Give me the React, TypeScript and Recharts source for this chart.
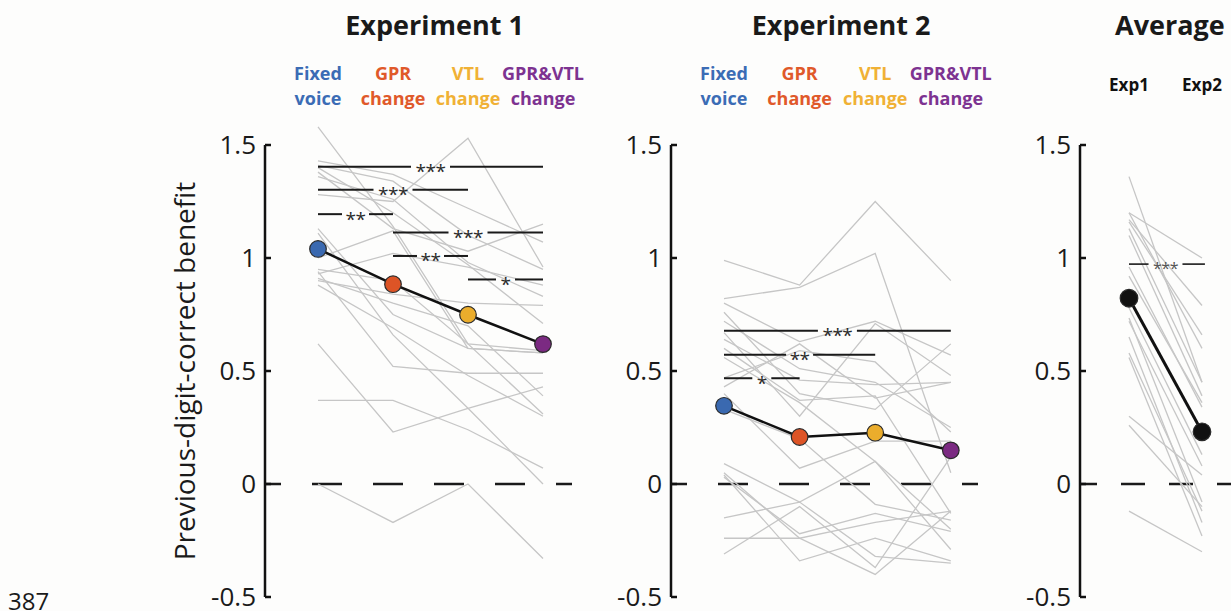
import React from 'react';
import { LineChart, Line, XAxis, YAxis, ReferenceLine, ReferenceDot } from 'recharts';

const FONT = "'Open Sans', 'DejaVu Sans', sans-serif";

// condition labels (two lines each) and their colours
const conditionLabels = [
  ['Fixed', 'voice'],
  ['GPR', 'change'],
  ['VTL', 'change'],
  ['GPR&VTL', 'change'],
];
const conditionColors = ['#3b6cb5', '#e0592a', '#f0b135', '#7d3391'];
const meanDotColors = ['#3a69b0', '#dd5426', '#ebad2c', '#7b2a82'];
const avgLabels = [['Exp1'], ['Exp2']];
const avgDotColors = ['#111111', '#111111'];

const yTicks = [-0.5, 0, 0.5, 1, 1.5];
const Y_MIN = -0.5;
const Y_AXIS_TOP = 1.5;
const Y_DOMAIN_TOP = 1.6; // a little headroom so lines above 1.5 are not clipped

// group means
const exp1Means = [1.04, 0.884, 0.749, 0.619];
const exp2Means = [0.346, 0.208, 0.227, 0.149];
const avgMeans = [0.822, 0.231];

// one row per participant: fixed, GPR, VTL, GPR&VTL
const exp1Subjects = [
  [0.0, -0.17, 0.0, -0.33],
  [0.37, 0.37, 0.24, 0.07],
  [0.62, 0.23, 0.335, 0.43],
  [0.94, 0.52, 0.49, 0.49],
  [1.11, 0.66, 0.335, 0.0],
  [1.28, 1.25, 1.53, 0.96],
  [1.58, 1.14, 0.62, 0.31],
  [1.43, 1.37, 1.22, 1.07],
  [1.38, 1.13, 1.03, 1.15],
  [1.41, 1.34, 1.1, 0.95],
  [1.36, 1.26, 0.98, 0.83],
  [1.4, 1.2, 0.97, 0.71],
  [1.13, 0.75, 0.6, 0.58],
  [0.93, 1.02, 0.96, 0.88],
  [0.95, 0.9, 0.62, 0.59],
  [0.91, 0.8, 0.7, 0.39],
  [0.88, 0.69, 0.48, 0.3],
  [1.0, 1.12, 0.6, 0.58],
  [0.9, 0.84, 0.8, 0.79],
];

const exp2Subjects = [
  [0.99, 0.88, 1.25, 0.9],
  [0.82, 0.87, 1.02, 0.05],
  [0.8, 0.63, 0.72, 0.57],
  [0.47, 0.59, 0.54, 0.23],
  [0.76, 0.4, 0.33, 0.62],
  [0.72, 0.51, 0.45, 0.25],
  [0.67, 0.3, 0.71, 0.48],
  [0.64, 0.46, 0.44, 0.45],
  [0.6, 0.37, 0.39, -0.13],
  [0.56, 0.36, 0.1, -0.2],
  [0.43, 0.62, 0.38, 0.45],
  [0.4, 0.07, 0.19, 0.19],
  [0.33, 0.2, -0.09, -0.16],
  [0.09, -0.08, 0.1, -0.29],
  [0.05, -0.24, -0.17, -0.12],
  [0.04, -0.34, -0.24, -0.34],
  [-0.15, -0.08, -0.32, -0.35],
  [-0.24, -0.24, -0.4, -0.12],
  [-0.31, -0.1, -0.37, 0.12],
  [0.03, -0.22, -0.13, -0.21],
];

// one row per participant: Exp1, Exp2
const avgSubjects = [
  [1.36, 0.45],
  [1.2, 1.0],
  [1.2, 0.6],
  [1.17, 0.79],
  [1.16, 0.66],
  [1.13, 0.45],
  [1.1, 0.39],
  [0.92, 0.36],
  [0.78, 0.13],
  [0.735, -0.08],
  [0.72, 0.08],
  [0.65, -0.17],
  [0.58, -0.12],
  [0.56, -0.23],
  [0.3, 0.04],
  [0.26, -0.1],
  [-0.12, -0.3],
  [0.96, 0.34],
];

// significance bars
type Sig = { from: number; to: number; y: number; stars: string };
const exp1Sigs: Sig[] = [
  { from: 1, to: 4, y: 1.404, stars: '***' },
  { from: 1, to: 3, y: 1.302, stars: '***' },
  { from: 1, to: 2, y: 1.194, stars: '**' },
  { from: 2, to: 4, y: 1.113, stars: '***' },
  { from: 2, to: 3, y: 1.009, stars: '**' },
  { from: 3, to: 4, y: 0.905, stars: '*' },
];
const exp2Sigs: Sig[] = [
  { from: 1, to: 4, y: 0.678, stars: '***' },
  { from: 1, to: 3, y: 0.572, stars: '**' },
  { from: 1, to: 2, y: 0.468, stars: '*' },
];
const avgSigs: Sig[] = [{ from: 1, to: 2.04, y: 0.973, stars: '***' }];

const GAPS: Record<string, number> = { '*': 19, '**': 27, '***': 39 };

// dashed zero line: first dash is cut by the axis
const EXP_DASH = '16 31 30 31 30 31 30 31 30 31 30 31';
const AVG_DASH = '17 24 24 24 24 24 24 24 24 24';

// vertical frame shared by the three panels
const AXIS_TOP_PX = 145;
const AXIS_BOTTOM_PX = 597;
const PX_PER_UNIT = (AXIS_BOTTOM_PX - AXIS_TOP_PX) / (Y_AXIS_TOP - Y_MIN);
const PLOT_TOP = AXIS_TOP_PX - (Y_DOMAIN_TOP - Y_AXIS_TOP) * PX_PER_UNIT;
const X_AXIS_H = 30;

type PanelProps = {
  width: number;
  axisX: number;
  firstX: number;
  step: number;
  plotRight: number;
  labels: string[][];
  labelColors: string[];
  labelBaselines: number[];
  labelSize: number;
  subjects: number[][];
  means: number[];
  dotColors: string[];
  dotR: number;
  meanWidth: number;
  sigs: Sig[];
  starSize: number;
  starFill: string;
  sigWidth: number;
  gapScale: number;
  dash: string;
};

function Panel(p: PanelProps) {
  const yAxisWidth = 70;
  const xMin = 1 - (p.firstX - p.axisX) / p.step;
  const xMax = xMin + (p.plotRight - p.axisX) / p.step;
  const xs = p.means.map((_, i) => i + 1);
  const data = xs.map((x, c) => {
    const row: Record<string, number> = { x, mean: p.means[c] };
    p.subjects.forEach((s, i) => {
      row[`s${i}`] = s[c];
    });
    return row;
  });

  const XTick = (t: any) => {
    const idx = Math.round(t.payload.value) - 1;
    return (
      <g>
        {p.labels[idx].map((line, k) => (
          <text
            key={k}
            x={t.x}
            y={t.y - PLOT_TOP + p.labelBaselines[k]}
            textAnchor="middle"
            fontSize={p.labelSize}
            fontWeight={700}
            fontFamily={FONT}
            fill={p.labelColors[idx]}
          >
            {line}
          </text>
        ))}
      </g>
    );
  };

  const YTick = (t: any) => (
    <g>
      <line x1={t.x} x2={t.x + 6} y1={t.y} y2={t.y} stroke="#111" strokeWidth={2.5} />
      <text x={t.x - 9} y={t.y} dy="0.36em" textAnchor="end" fontSize={26} fontFamily={FONT} fill="#1a1a1a">
        {t.payload.value}
      </text>
    </g>
  );

  return (
    <LineChart
      width={p.width}
      height={611}
      data={data}
      margin={{
        top: PLOT_TOP - X_AXIS_H,
        right: p.width - p.plotRight,
        bottom: 611 - AXIS_BOTTOM_PX,
        left: p.axisX - yAxisWidth,
      }}
    >
      <XAxis
        dataKey="x"
        type="number"
        orientation="top"
        domain={[xMin, xMax]}
        allowDataOverflow
        ticks={xs}
        interval={0}
        height={X_AXIS_H}
        axisLine={false}
        tickLine={false}
        tickSize={0}
        tickMargin={0}
        tick={XTick}
      />
      <YAxis
        type="number"
        domain={[Y_MIN, Y_DOMAIN_TOP]}
        ticks={yTicks}
        interval={0}
        width={yAxisWidth}
        axisLine={false}
        tickLine={false}
        tickSize={0}
        tickMargin={0}
        tick={YTick}
      />
      {/* y axis line, drawn only between -0.5 and 1.5 */}
      <ReferenceLine
        segment={[{ x: xMin, y: Y_MIN }, { x: xMin, y: Y_AXIS_TOP }]}
        stroke="#111"
        strokeWidth={2.5}
        ifOverflow="visible"
      />
      <ReferenceLine y={0} stroke="#1a1a1a" strokeWidth={2.5} strokeDasharray={p.dash} />
      {p.subjects.map((_, i) => (
        <Line
          key={i}
          dataKey={`s${i}`}
          stroke="#c6c6c6"
          strokeWidth={1.3}
          dot={false}
          activeDot={false}
          isAnimationActive={false}
        />
      ))}
      {p.sigs.map((s, i) => {
        const mid = (s.from + Math.round(s.to)) / 2;
        const half = (GAPS[s.stars] * p.gapScale) / 2 / p.step;
        return (
          <React.Fragment key={`sig${i}`}>
            <ReferenceLine
              segment={[{ x: s.from, y: s.y }, { x: mid - half, y: s.y }]}
              stroke="#1a1a1a"
              strokeWidth={p.sigWidth}
            />
            <ReferenceLine
              segment={[{ x: mid + half, y: s.y }, { x: s.to, y: s.y }]}
              stroke="#1a1a1a"
              strokeWidth={p.sigWidth}
            />
            <ReferenceDot
              x={mid}
              y={s.y}
              r={0}
              shape={(d: any) => (
                <text
                  x={d.cx}
                  y={d.cy + p.starSize * 0.6}
                  textAnchor="middle"
                  fontSize={p.starSize}
                  fontFamily={FONT}
                  fill={p.starFill}
                  letterSpacing={-0.5}
                >
                  {s.stars}
                </text>
              )}
            />
          </React.Fragment>
        );
      })}
      <Line
        dataKey="mean"
        stroke="#111"
        strokeWidth={p.meanWidth}
        isAnimationActive={false}
        activeDot={false}
        dot={(d: any) => (
          <circle
            key={`m${d.index}`}
            cx={d.cx}
            cy={d.cy}
            r={p.dotR}
            fill={p.dotColors[d.index]}
            stroke="#2a2a2a"
            strokeWidth={1.2}
          />
        )}
      />
    </LineChart>
  );
}

export default function App() {
  return (
    <div
      style={{
        position: 'fixed',
        left: 0,
        top: 0,
        width: 1231,
        height: 611,
        overflow: 'hidden',
        background: '#fdfdfc',
        fontFamily: FONT,
      }}
    >
      <div style={{ position: 'absolute', left: 0, top: 0 }}>
        <Panel
          width={600}
          axisX={265}
          firstX={318}
          step={75}
          plotRight={572}
          labels={conditionLabels}
          labelColors={conditionColors}
          labelBaselines={[80, 105]}
          labelSize={18}
          subjects={exp1Subjects}
          means={exp1Means}
          dotColors={meanDotColors}
          dotR={8.3}
          meanWidth={2.5}
          sigs={exp1Sigs}
          starSize={19}
          starFill="#2a2a2a"
          sigWidth={2}
          gapScale={1}
          dash={EXP_DASH}
        />
      </div>
      <div style={{ position: 'absolute', left: 600, top: 0 }}>
        <Panel
          width={410}
          axisX={71}
          firstX={124}
          step={75.6}
          plotRight={378}
          labels={conditionLabels}
          labelColors={conditionColors}
          labelBaselines={[80, 105]}
          labelSize={18}
          subjects={exp2Subjects}
          means={exp2Means}
          dotColors={meanDotColors}
          dotR={8.3}
          meanWidth={2.5}
          sigs={exp2Sigs}
          starSize={19}
          starFill="#2a2a2a"
          sigWidth={2}
          gapScale={1}
          dash={EXP_DASH}
        />
      </div>
      <div style={{ position: 'absolute', left: 1010, top: 0 }}>
        <Panel
          width={260}
          axisX={70}
          firstX={119}
          step={73}
          plotRight={240}
          labels={avgLabels}
          labelColors={['#111', '#111']}
          labelBaselines={[91]}
          labelSize={17}
          subjects={avgSubjects}
          means={avgMeans}
          dotColors={avgDotColors}
          dotR={8.8}
          meanWidth={3}
          sigs={avgSigs}
          starSize={16}
          starFill="#555"
          sigWidth={1.6}
          gapScale={0.87}
          dash={AVG_DASH}
        />
      </div>
      <svg
        width={1231}
        height={611}
        style={{ position: 'absolute', left: 0, top: 0, pointerEvents: 'none' }}
      >
        <g fontFamily={FONT} fill="#1a1a1a">
          <text x={434.5} y={35} textAnchor="middle" fontSize={27} fontWeight={700}>
            Experiment 1
          </text>
          <text x={841} y={35} textAnchor="middle" fontSize={27} fontWeight={700}>
            Experiment 2
          </text>
          <text x={1115} y={35} fontSize={27} fontWeight={700}>
            Average
          </text>
          <text transform="translate(195,371) rotate(-90)" textAnchor="middle" fontSize={28}>
            Previous-digit-correct benefit
          </text>
          <text x={8} y={610} fontSize={24}>
            387
          </text>
        </g>
      </svg>
    </div>
  );
}
